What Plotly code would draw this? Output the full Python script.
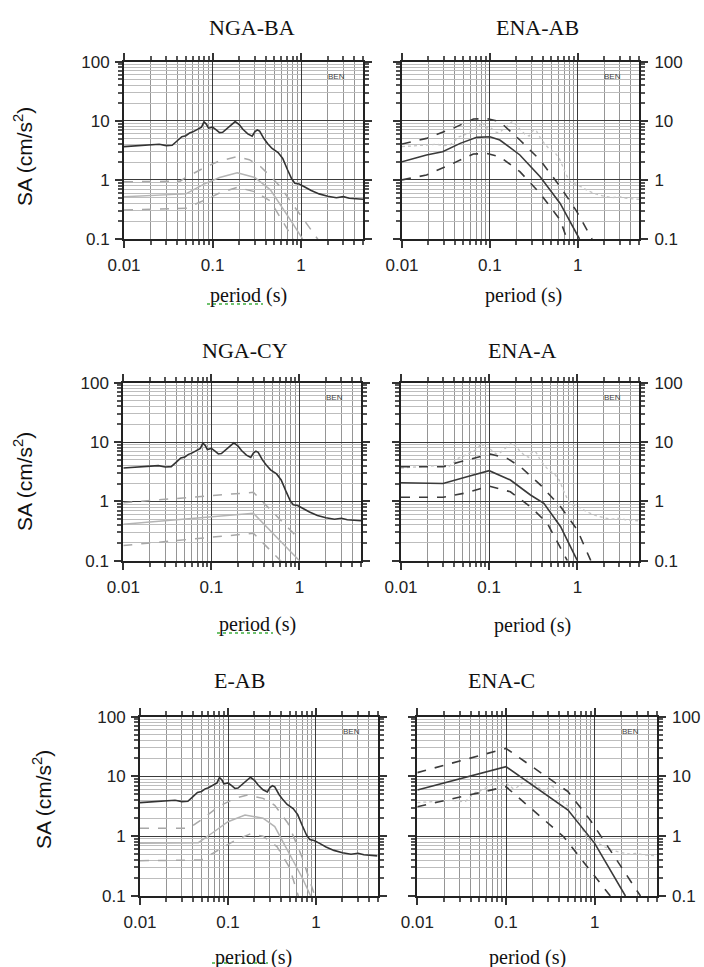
import math
import plotly.graph_objects as go

# ---------------- data ----------------
panel_titles = ["NGA-BA", "ENA-AB", "NGA-CY", "ENA-A", "E-AB", "ENA-C"]

# observed (BEN) spectrum
obs_T = [0.01, 0.015, 0.02, 0.025, 0.03, 0.035, 0.04, 0.045, 0.05, 0.055, 0.06, 0.067, 0.075, 0.08,
         0.085, 0.09, 0.1, 0.11, 0.12, 0.13, 0.15, 0.17, 0.18, 0.2, 0.22, 0.25, 0.28, 0.3, 0.32, 0.34,
         0.38, 0.42, 0.47, 0.55, 0.62, 0.7, 0.78, 0.85, 0.95, 1.1, 1.3, 1.6, 2.0, 2.5, 3.0, 3.5, 4.0, 5.0]
obs_SA = [3.65, 3.8, 3.9, 4.0, 3.8, 3.85, 4.6, 5.4, 5.6, 6.2, 6.5, 7.2, 7.8, 9.6,
          8.8, 7.5, 7.8, 7.0, 6.3, 6.4, 7.8, 9.2, 9.7, 8.6, 7.2, 6.0, 5.5, 6.5, 7.0, 6.7,
          5.0, 4.1, 3.4, 2.9, 2.3, 1.5, 1.05, 0.88, 0.85, 0.76, 0.66, 0.58, 0.53, 0.50, 0.52, 0.49, 0.48, 0.47]

# NGA-BA
ba_T_up = [0.01, 0.043, 0.05, 0.08, 0.12, 0.19, 0.26, 0.35, 0.45, 0.58, 0.8, 1.0, 1.38, 1.6]
ba_SA_up = [0.93, 0.95, 1.1, 1.6, 2.1, 2.47, 2.2, 1.67, 1.15, 0.77, 0.39, 0.245, 0.126, 0.092]
ba_T_med = [0.01, 0.05, 0.08, 0.12, 0.19, 0.3, 0.45, 0.6, 0.8, 1.0, 1.1]
ba_SA_med = [0.52, 0.58, 0.85, 1.1, 1.32, 1.1, 0.68, 0.36, 0.185, 0.11, 0.085]
ba_T_lo = [0.01, 0.05, 0.08, 0.12, 0.19, 0.3, 0.45, 0.6, 0.76, 0.85]
ba_SA_lo = [0.31, 0.33, 0.45, 0.6, 0.75, 0.63, 0.44, 0.22, 0.125, 0.09]

# ENA-AB
ab_T_up = [0.01, 0.019, 0.038, 0.065, 0.092, 0.13, 0.22, 0.374, 0.633, 0.98, 1.46]
ab_SA_up = [4.04, 5.04, 7.45, 10.7, 10.9, 9.66, 4.73, 2.17, 0.77, 0.29, 0.1]
ab_T_med = [0.01, 0.019, 0.029, 0.046, 0.071, 0.1, 0.13, 0.22, 0.374, 0.633, 1.05]
ab_SA_med = [2.03, 2.64, 3.0, 4.15, 5.25, 5.38, 4.73, 2.64, 1.13, 0.40, 0.1]
ab_T_lo = [0.01, 0.019, 0.038, 0.065, 0.092, 0.13, 0.22, 0.374, 0.633, 0.755]
ab_SA_lo = [1.0, 1.21, 1.9, 2.74, 2.8, 2.47, 1.38, 0.59, 0.21, 0.1]

# NGA-CY
cy_T_up = [0.01, 0.3, 0.97]
cy_SA_up = [0.95, 1.42, 0.24]
cy_T_med = [0.01, 0.3, 1.0]
cy_SA_med = [0.41, 0.63, 0.1]
cy_T_lo = [0.01, 0.3, 0.61, 0.7]
cy_SA_lo = [0.18, 0.29, 0.1, 0.081]

# ENA-A
a_T_up = [0.01, 0.03, 0.047, 0.103, 0.16, 0.226, 0.383, 0.646, 1.0, 1.42]
a_SA_up = [3.84, 3.84, 4.66, 6.28, 5.3, 3.84, 1.88, 0.81, 0.33, 0.1]
a_T_med = [0.01, 0.03, 0.056, 0.1, 0.174, 0.294, 0.417, 0.646, 0.77, 1.0]
a_SA_med = [2.06, 2.0, 2.6, 3.29, 2.29, 1.28, 0.925, 0.374, 0.22, 0.1]
a_T_lo = [0.01, 0.03, 0.056, 0.1, 0.174, 0.294, 0.455, 0.77]
a_SA_lo = [1.17, 1.17, 1.4, 1.81, 1.45, 0.81, 0.43, 0.1]

# E-AB
eab_T_up = [0.01, 0.036, 0.05, 0.08, 0.12, 0.167, 0.25, 0.34, 0.48, 0.69, 0.97]
eab_SA_up = [1.36, 1.36, 1.9, 3.2, 4.3, 4.9, 4.3, 3.3, 1.65, 0.46, 0.1]
eab_T_med = [0.01, 0.046, 0.07, 0.1, 0.156, 0.25, 0.34, 0.52, 0.7, 0.87]
eab_SA_med = [0.76, 0.78, 1.2, 1.75, 2.27, 2.0, 1.45, 0.46, 0.2, 0.1]
eab_T_lo = [0.01, 0.05, 0.08, 0.12, 0.18, 0.25, 0.36, 0.5, 0.63]
eab_SA_lo = [0.39, 0.4, 0.6, 0.85, 1.1, 1.0, 0.67, 0.3, 0.1]

# ENA-C
c_T_up = [0.01, 0.1, 0.5, 0.89, 3.28]
c_SA_up = [11.6, 29.5, 5.56, 1.87, 0.1]
c_T_med = [0.01, 0.1, 0.5, 1.0, 2.22]
c_SA_med = [5.93, 14.6, 2.74, 0.76, 0.1]
c_T_lo = [0.01, 0.1, 0.447, 1.5]
c_SA_lo = [3.12, 6.74, 0.98, 0.1]

x_major = [0.01, 0.1, 1]
x_major_text = ["0.01", "0.1", "1"]
y_major = [0.1, 1, 10, 100]
y_major_text = ["0.1", "1", "10", "100"]
x_minor = [m * d for d in (0.01, 0.1, 1) for m in range(2, 10) if m * d <= 5]
y_minor = [m * d for d in (0.1, 1, 10) for m in range(2, 10)]

models = [
    (ba_T_up, ba_SA_up, ba_T_med, ba_SA_med, ba_T_lo, ba_SA_lo),
    (ab_T_up, ab_SA_up, ab_T_med, ab_SA_med, ab_T_lo, ab_SA_lo),
    (cy_T_up, cy_SA_up, cy_T_med, cy_SA_med, cy_T_lo, cy_SA_lo),
    (a_T_up, a_SA_up, a_T_med, a_SA_med, a_T_lo, a_SA_lo),
    (eab_T_up, eab_SA_up, eab_T_med, eab_SA_med, eab_T_lo, eab_SA_lo),
    (c_T_up, c_SA_up, c_T_med, c_SA_med, c_T_lo, c_SA_lo),
]

# ---------------- layout geometry (pixels) ----------------
W, H = 704, 967
# (left, right, top, bottom) in px
boxes = [
    (124, 363, 61.7, 239),
    (402, 639, 61.7, 239),
    (123.3, 361, 382.7, 560.7),
    (401, 639, 382.7, 560.7),
    (140, 377.5, 716.7, 896),
    (417.3, 656.7, 716.7, 896),
]

fig = go.Figure()

for i, (box, mdl) in enumerate(zip(boxes, models)):
    n = i + 1
    xa = "x" if n == 1 else f"x{n}"
    ya = "y" if n == 1 else f"y{n}"
    right = (i % 2 == 1)
    Tu, Su, Tm, Sm, Tl, Sl = mdl
    if right:
        fig.add_trace(go.Scatter(x=obs_T, y=obs_SA, mode="lines", xaxis=xa, yaxis=ya,
                                 line=dict(color="#c4c4c4", width=1.3, dash="dot"), showlegend=False))
        mcol, mw = "#3a3a3a", 1.6
        dcol = "#3a3a3a"
    else:
        mcol, mw = "#b4b4b4", 1.5
        dcol = "#a8a8a8"
    fig.add_trace(go.Scatter(x=Tu, y=Su, mode="lines", xaxis=xa, yaxis=ya,
                             line=dict(color=dcol, width=mw, dash="dash"), showlegend=False))
    fig.add_trace(go.Scatter(x=Tm, y=Sm, mode="lines", xaxis=xa, yaxis=ya,
                             line=dict(color=mcol, width=mw), showlegend=False))
    fig.add_trace(go.Scatter(x=Tl, y=Sl, mode="lines", xaxis=xa, yaxis=ya,
                             line=dict(color=dcol, width=mw, dash="dash"), showlegend=False))
    if not right:
        fig.add_trace(go.Scatter(x=obs_T, y=obs_SA, mode="lines", xaxis=xa, yaxis=ya,
                                 line=dict(color="#333333", width=1.6), showlegend=False))

    l, r, t, b = box
    common = dict(
        type="log", showline=True, linecolor="#222", linewidth=2, mirror="ticks",
        ticks="outside", ticklen=7, tickwidth=1.5, tickcolor="#333", automargin=False,
        tickmode="array", showgrid=True, gridcolor="#3a3a3a", gridwidth=1.4,
        zeroline=False, tickfont=dict(family="Liberation Sans", size=17, color="#222"),
    )
    fig.layout[f"xaxis{n}"] = dict(
        common, domain=[l / W, r / W], anchor=ya, range=[-2, math.log10(5)],
        tickvals=x_major, ticktext=x_major_text, ticklabelstandoff=3,
        minor=dict(tickmode="array", tickvals=x_minor, showgrid=True, gridcolor="#959595",
                   gridwidth=1, ticks="outside", ticklen=4, tickcolor="#555"),
    )
    fig.layout[f"yaxis{n}"] = dict(
        common, domain=[1 - b / H, 1 - t / H], anchor=xa, range=[-1, 2],
        tickvals=y_major, ticktext=y_major_text, side="right" if right else "left",
        ticklabelstandoff=3 if right else 2,
        minor=dict(tickmode="array", tickvals=y_minor, showgrid=True, gridcolor="#bdbdbd",
                   gridwidth=1, ticks="outside", ticklen=4, tickcolor="#555"),
    )
    fig.add_annotation(text="BEN", xref=f"{xa} domain", yref=f"{ya} domain", x=0.89, y=0.915,
                       xanchor="center", yanchor="middle",
                       showarrow=False, font=dict(family="Liberation Sans", size=8, color="#444"))

# titles, axis labels
serif = "Liberation Serif"
title_pos = [(252, 27), (537, 27), (245, 350), (522, 350), (240, 680), (502, 680)]
for txt, (px, py) in zip(panel_titles, title_pos):
    fig.add_annotation(text=txt, x=px / W, y=1 - py / H, xref="paper", yref="paper", showarrow=False,
                       xanchor="center", yanchor="middle",
                       font=dict(family=serif, size=22, color="#111"))

xlab_pos = [(248, 296), (523, 296), (257, 624), (532, 625), (253, 957), (527, 957)]
for px, py in xlab_pos:
    fig.add_annotation(text="period (s)", x=px / W, y=1 - py / H, xref="paper", yref="paper",
                       xanchor="center", yanchor="middle",
                       showarrow=False, font=dict(family=serif, size=20, color="#111"))

ylab_pos = [(23, 157), (23, 482), (42, 800)]
for px, py in ylab_pos:
    fig.add_annotation(text="SA (cm/s<sup>2</sup>)", x=px / W, y=1 - py / H, xref="paper", yref="paper",
                       xanchor="center", yanchor="middle",
                       showarrow=False, textangle=-90,
                       font=dict(family="Liberation Sans", size=21, color="#111"))

# spell-check squiggles under "period" on the left column
squig = [(207, 263, 304), (217, 273, 633), (212, 268, 963)]
for x0, x1, yy in squig:
    fig.add_shape(type="line", xref="paper", yref="paper", x0=x0 / W, x1=x1 / W,
                  y0=1 - yy / H, y1=1 - yy / H, line=dict(color="#3fae3f", width=1.5, dash="dot"))

fig.update_layout(width=W, height=H, margin=dict(l=0, r=0, t=0, b=0, autoexpand=False),
                  paper_bgcolor="white", plot_bgcolor="white", showlegend=False)

fig.write_html("out.html", config={"displayModeBar": False},
               post_script="document.body.style.margin='0';document.body.style.padding='0';"
                           "document.documentElement.style.overflow='hidden';")
